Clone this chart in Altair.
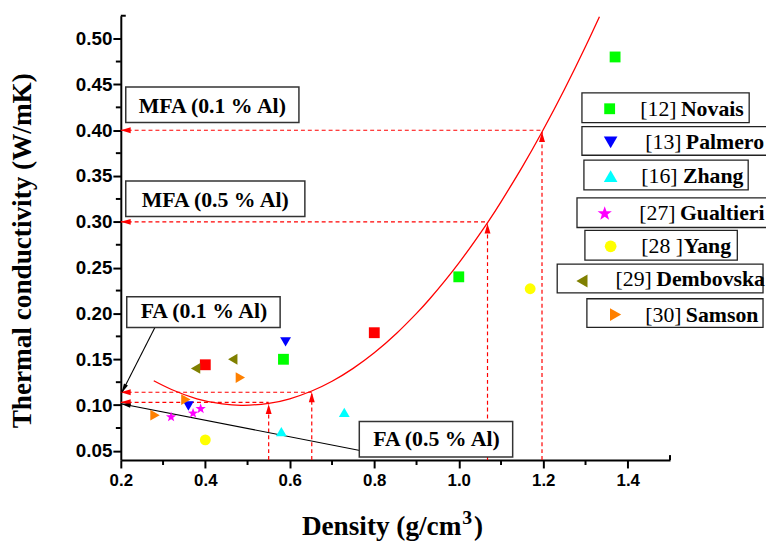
import altair as alt
import pandas as pd

# ---------------- data ----------------
novais_x = [0.585, 1.00, 1.37]
novais_y = [0.150, 0.240, 0.480]
red_x = [0.40, 0.80]
red_y = [0.144, 0.179]
palmero_x = [0.36, 0.59]
palmero_y = [0.099, 0.169]
zhang_x = [0.58, 0.729]
zhang_y = [0.071, 0.092]
gualtieri_x = [0.319, 0.371, 0.389]
gualtieri_y = [0.087, 0.091, 0.096]
yang_x = [0.40, 1.169]
yang_y = [0.062, 0.227]
dembovska_x = [0.377, 0.465]
dembovska_y = [0.140, 0.150]
samson_x = [0.281, 0.354, 0.483]
samson_y = [0.089, 0.106, 0.130]

# red fitted curve, points read along it
fit_x = [0.278, 0.32, 0.38, 0.44, 0.49, 0.55, 0.60, 0.652, 0.70, 0.75, 0.80,
         0.853, 0.90, 0.931, 1.00, 1.069, 1.10, 1.15, 1.197, 1.25, 1.30, 1.333]
fit_y = [0.1265, 0.1170, 0.1069, 0.1012, 0.0997, 0.1019, 0.1069, 0.1154, 0.1260, 0.1401,
         0.1571, 0.1784, 0.2001, 0.2158, 0.2550, 0.2998, 0.3218, 0.3598, 0.3981, 0.4445,
         0.4914, 0.5240]

# red dashed guides: vertical (density) and horizontal (conductivity)
guide_density = [0.55, 0.652, 1.068, 1.197]
guide_k_tip = [0.101, 0.114, 0.298, 0.398]
guide_k_level = [0.103, 0.114, 0.300, 0.400]

# black pointer lines (FA 0.1 and FA 0.5)
fa01_x = [0.281, 0.2016]
fa01_y = [0.185, 0.1129]
fa05_x = [0.766, 0.200]
fa05_y = [0.0505, 0.1015]

x_ticks = [0.2, 0.4, 0.6, 0.8, 1.0, 1.2, 1.4]
x_minor = [0.3, 0.5, 0.7, 0.9, 1.1, 1.3]
y_ticks = [0.05, 0.10, 0.15, 0.20, 0.25, 0.30, 0.35, 0.40, 0.45, 0.50]
y_minor = [0.075, 0.125, 0.175, 0.225, 0.275, 0.325, 0.375, 0.425, 0.475]

legend_refs = ["[12] ", "[13] ", "[16] ", "[27] ", "[28 ]", "[29] ", "[30] "]
legend_names = ["Novais", "Palmero", "Zhang", "Gualtieri", "Yang", "Dembovska", "Samson"]
box_labels = ["MFA (0.1 % Al)", "MFA (0.5 % Al)", "FA (0.1 % Al)", "FA (0.5 % Al)"]
x_title_parts = ["Density (g/cm", "3", ")"]

# ---------------- styles / layout ----------------
X0, Y0 = 122, 13          # plot origin on the page
W, H = 555, 449
XDOM = [0.2, 1.5]
YDOM = [0.04, 0.525]
SERIF = "Liberation Serif"
SANS = "Liberation Sans"
RED = "#FF0000"

STAR = ("M0,-1L0.235,-0.324L0.951,-0.309L0.38,0.124L0.588,0.809L0,0.4"
        "L-0.588,0.809L-0.38,0.124L-0.951,-0.309L-0.235,-0.324Z")
ARROW_UP = "M0,-1L0.6,1L-0.6,1Z"
ARROW_LEFT = "M-1,0L1,-0.6L1,0.6Z"
ARROW_THIN = "M0,-1L0.45,1L-0.45,1Z"

styles = {
    "Novais": ("square", "#00FF00", 120),
    "Red": ("square", "#FF0000", 120),
    "Palmero": ("triangle-down", "#0000FF", 190),
    "Zhang": ("triangle-up", "#00FFFF", 190),
    "Gualtieri": (STAR, "#FF00FF", 230),
    "Yang": ("circle", "#FFFF00", 140),
    "Dembovska": ("triangle-left", "#808000", 170),
    "Samson": ("triangle-right", "#FF8000", 170),
}

# legend layout in page pixels: box (x1, x2, y1, y2), symbol (x, y), ref x, name x, baseline
legend_layout = [
    ((588, 757, 91, 121), (616, 107), 647, 688, 114),
    ((588, 780, 125, 154), (617, 141), 652, 693, 148),
    ((590, 756, 159, 189), (617, 175), 648, 690, 182),
    ((583, 780, 197, 227), (611, 213), 646, 687, 219),
    ((591, 745, 230, 260), (617, 246), 648, 691, 253),
    ((563, 771, 264, 293), (588, 281), 622, 663, 286),
    ((593, 771, 299, 328), (622, 315), 652, 693, 322),
]
box_layout = [
    ((127, 302, 85, 121), 214.5, 111),
    ((127, 308, 180, 216), 217.5, 206),
    ((128, 283, 297, 328), 206, 318),
    ((363, 518, 423, 459), 441, 448),
]
# x title pieces: (x, baseline, size) in page pixels
x_title_layout = [(305, 538, 27.5), (467, 527, 20), (479, 538, 27.5)]

xs = alt.Scale(domain=XDOM, nice=False, zero=False)
ys = alt.Scale(domain=YDOM, nice=False, zero=False)

x_axis = alt.Axis(values=x_ticks, format=".1f", labelFont=SANS, labelFontWeight="bold",
                  labelFontSize=17, labelColor="black", labelFlush=False, labelOverlap=False,
                  labelPadding=5, tickSize=8, tickWidth=2, tickColor="black",
                  domainColor="black", domainWidth=2, grid=False, title=None)
y_axis = alt.Axis(values=y_ticks, format=".2f", labelFont=SANS, labelFontWeight="bold",
                  labelFontSize=19, labelColor="black", labelFlush=False, labelOverlap=False,
                  labelPadding=1, tickSize=8, tickWidth=2, tickColor="black",
                  domainColor="black", domainWidth=2, grid=False,
                  title="Thermal conductivity (W/mK)", titleFont=SERIF, titleFontSize=27.5,
                  titleFontWeight="bold", titleColor="black", titleAngle=270,
                  titleX=-91, titleY=237, titleAlign="center", titleBaseline="alphabetic")


def X(f):
    return alt.X(f, type="quantitative", scale=xs, axis=x_axis)


def Y(f):
    return alt.Y(f, type="quantitative", scale=ys, axis=y_axis)


# ---------------- tables ----------------
series = {
    "Novais": (novais_x, novais_y), "Red": (red_x, red_y),
    "Palmero": (palmero_x, palmero_y), "Zhang": (zhang_x, zhang_y),
    "Gualtieri": (gualtieri_x, gualtieri_y), "Yang": (yang_x, yang_y),
    "Dembovska": (dembovska_x, dembovska_y), "Samson": (samson_x, samson_y),
}
rows = []
for name, (xx, yy) in series.items():
    for a, b in zip(xx, yy):
        rows.append({"series": name, "d": a, "k": b})
pts = pd.DataFrame(rows)
names = list(styles.keys())

fit = pd.DataFrame({"d": fit_x, "k": fit_y})

seg_rows = []
for d, kt, kl in zip(guide_density, guide_k_tip, guide_k_level):
    seg_rows.append({"d": d, "k": YDOM[0], "d2": d, "k2": kt})
    seg_rows.append({"d": XDOM[0], "k": kl, "d2": d, "k2": kl})
segs = pd.DataFrame(seg_rows)

up_tips = pd.DataFrame({"d": guide_density, "k": guide_k_tip})
left_tips = pd.DataFrame({"d": [XDOM[0]] * len(guide_k_level), "k": guide_k_level})

layers = []

# dashed red guides
layers.append(alt.Chart(segs).mark_rule(color=RED, strokeWidth=1.2, strokeDash=[4, 3]).encode(
    x=X("d"), y=Y("k"), x2="d2:Q", y2="k2:Q"))

# fitted curve
layers.append(alt.Chart(fit).mark_line(color=RED, strokeWidth=1.3, interpolate="natural").encode(
    x=X("d"), y=Y("k")))

# black pointer lines
for lx, ly in [(fa01_x, fa01_y), (fa05_x, fa05_y)]:
    df = pd.DataFrame({"d": lx, "k": ly, "o": [0, 1]})
    layers.append(alt.Chart(df).mark_line(color="black", strokeWidth=1.1).encode(
        x=X("d"), y=Y("k"), order="o:Q"))

# red arrowheads
layers.append(alt.Chart(up_tips).mark_point(shape=ARROW_UP, size=100, filled=True, fill=RED,
                                            opacity=1, strokeWidth=0, yOffset=5).encode(
    x=X("d"), y=Y("k")))
layers.append(alt.Chart(left_tips).mark_point(shape=ARROW_LEFT, size=100, filled=True, fill=RED,
                                              opacity=1, strokeWidth=0, xOffset=5).encode(
    x=X("d"), y=Y("k")))

# black arrowheads
for tx, ty, ang, ox, oy in [(fa01_x[1], fa01_y[1], 206.9, 2.26, -4.46),
                            (fa05_x[1], fa05_y[1], 281.2, 4.9, 0.97)]:
    df = pd.DataFrame({"d": [tx], "k": [ty]})
    layers.append(alt.Chart(df).mark_point(shape=ARROW_THIN, size=100, filled=True, fill="black",
                                           opacity=1, strokeWidth=0, angle=ang,
                                           xOffset=ox, yOffset=oy).encode(
        x=X("d"), y=Y("k")))

# data points
layers.append(alt.Chart(pts).mark_point(filled=True, opacity=1, strokeWidth=0).encode(
    x=X("d"), y=Y("k"),
    shape=alt.Shape("series:N", scale=alt.Scale(domain=names, range=[styles[n][0] for n in names]), legend=None),
    color=alt.Color("series:N", scale=alt.Scale(domain=names, range=[styles[n][1] for n in names]), legend=None),
    size=alt.Size("series:N", scale=alt.Scale(domain=names, range=[styles[n][2] for n in names]), legend=None),
))

# minor ticks (outward) and axis end hooks (inward)
layers.append(alt.Chart(pd.DataFrame({"k": y_minor})).mark_rule(color="black", strokeWidth=2).encode(
    y=Y("k"), x=alt.value(-5), x2=alt.value(0)))
layers.append(alt.Chart(pd.DataFrame({"d": x_minor})).mark_rule(color="black", strokeWidth=2).encode(
    x=X("d"), y=alt.value(H), y2=alt.value(H + 5)))
layers.append(alt.Chart(pd.DataFrame({"k": [YDOM[1]]})).mark_rule(color="black", strokeWidth=2).encode(
    y=Y("k"), x=alt.value(0), x2=alt.value(5)))
layers.append(alt.Chart(pd.DataFrame({"d": [XDOM[1]]})).mark_rule(color="black", strokeWidth=2).encode(
    x=X("d"), y=alt.value(H), y2=alt.value(H - 5)))

one = pd.DataFrame({"a": [0]})

# x-axis title with a raised "3"
for part, (px, pb, fs) in zip(x_title_parts, x_title_layout):
    layers.append(alt.Chart(one).mark_text(font=SERIF, fontSize=fs, fontWeight="bold", color="black",
                                           align="left", baseline="alphabetic").encode(
        x=alt.value(px - X0), y=alt.value(pb - Y0), text=alt.value(part)))

# annotation boxes
for label, ((bx1, bx2, by1, by2), tx, tb) in zip(box_labels, box_layout):
    layers.append(alt.Chart(one).mark_rect(fill="white", stroke="#333333", strokeWidth=1.5).encode(
        x=alt.value(bx1 - X0), x2=alt.value(bx2 - X0), y=alt.value(by1 - Y0), y2=alt.value(by2 - Y0)))
    layers.append(alt.Chart(one).mark_text(font=SERIF, fontSize=22, fontWeight="bold", color="black",
                                           align="center", baseline="alphabetic").encode(
        x=alt.value(tx - X0), y=alt.value(tb - Y0), text=alt.value(label)))

# legend (separate framed entries)
for ref, name, ((bx1, bx2, by1, by2), (sx, sy), rx, nx, base) in zip(legend_refs, legend_names, legend_layout):
    shp, col, sz = styles[name]
    layers.append(alt.Chart(one).mark_rect(fill="white", stroke="#222222", strokeWidth=1.3).encode(
        x=alt.value(bx1 - X0), x2=alt.value(bx2 - X0), y=alt.value(by1 - Y0), y2=alt.value(by2 - Y0)))
    layers.append(alt.Chart(one).mark_point(shape=shp, size=sz, filled=True, fill=col, opacity=1,
                                            strokeWidth=0).encode(
        x=alt.value(sx - X0), y=alt.value(sy - Y0)))
    layers.append(alt.Chart(one).mark_text(font=SERIF, fontSize=22, color="black",
                                           align="left", baseline="alphabetic").encode(
        x=alt.value(rx - X0), y=alt.value(base - Y0), text=alt.value(ref)))
    layers.append(alt.Chart(one).mark_text(font=SERIF, fontSize=22, fontWeight="bold", color="black",
                                           align="left", baseline="alphabetic").encode(
        x=alt.value(nx - X0), y=alt.value(base - Y0), text=alt.value(name)))

chart = alt.layer(*layers).properties(
    width=W, height=H,
    padding={"left": X0 - 8, "top": Y0 - 8, "right": 766 - (X0 - 8) - W, "bottom": 80},
    autosize=alt.AutoSizeParams(type="none"),
    background="white",
).configure_view(stroke=None)

chart.save("out.html", embed_options={"renderer": "svg", "actions": False})
